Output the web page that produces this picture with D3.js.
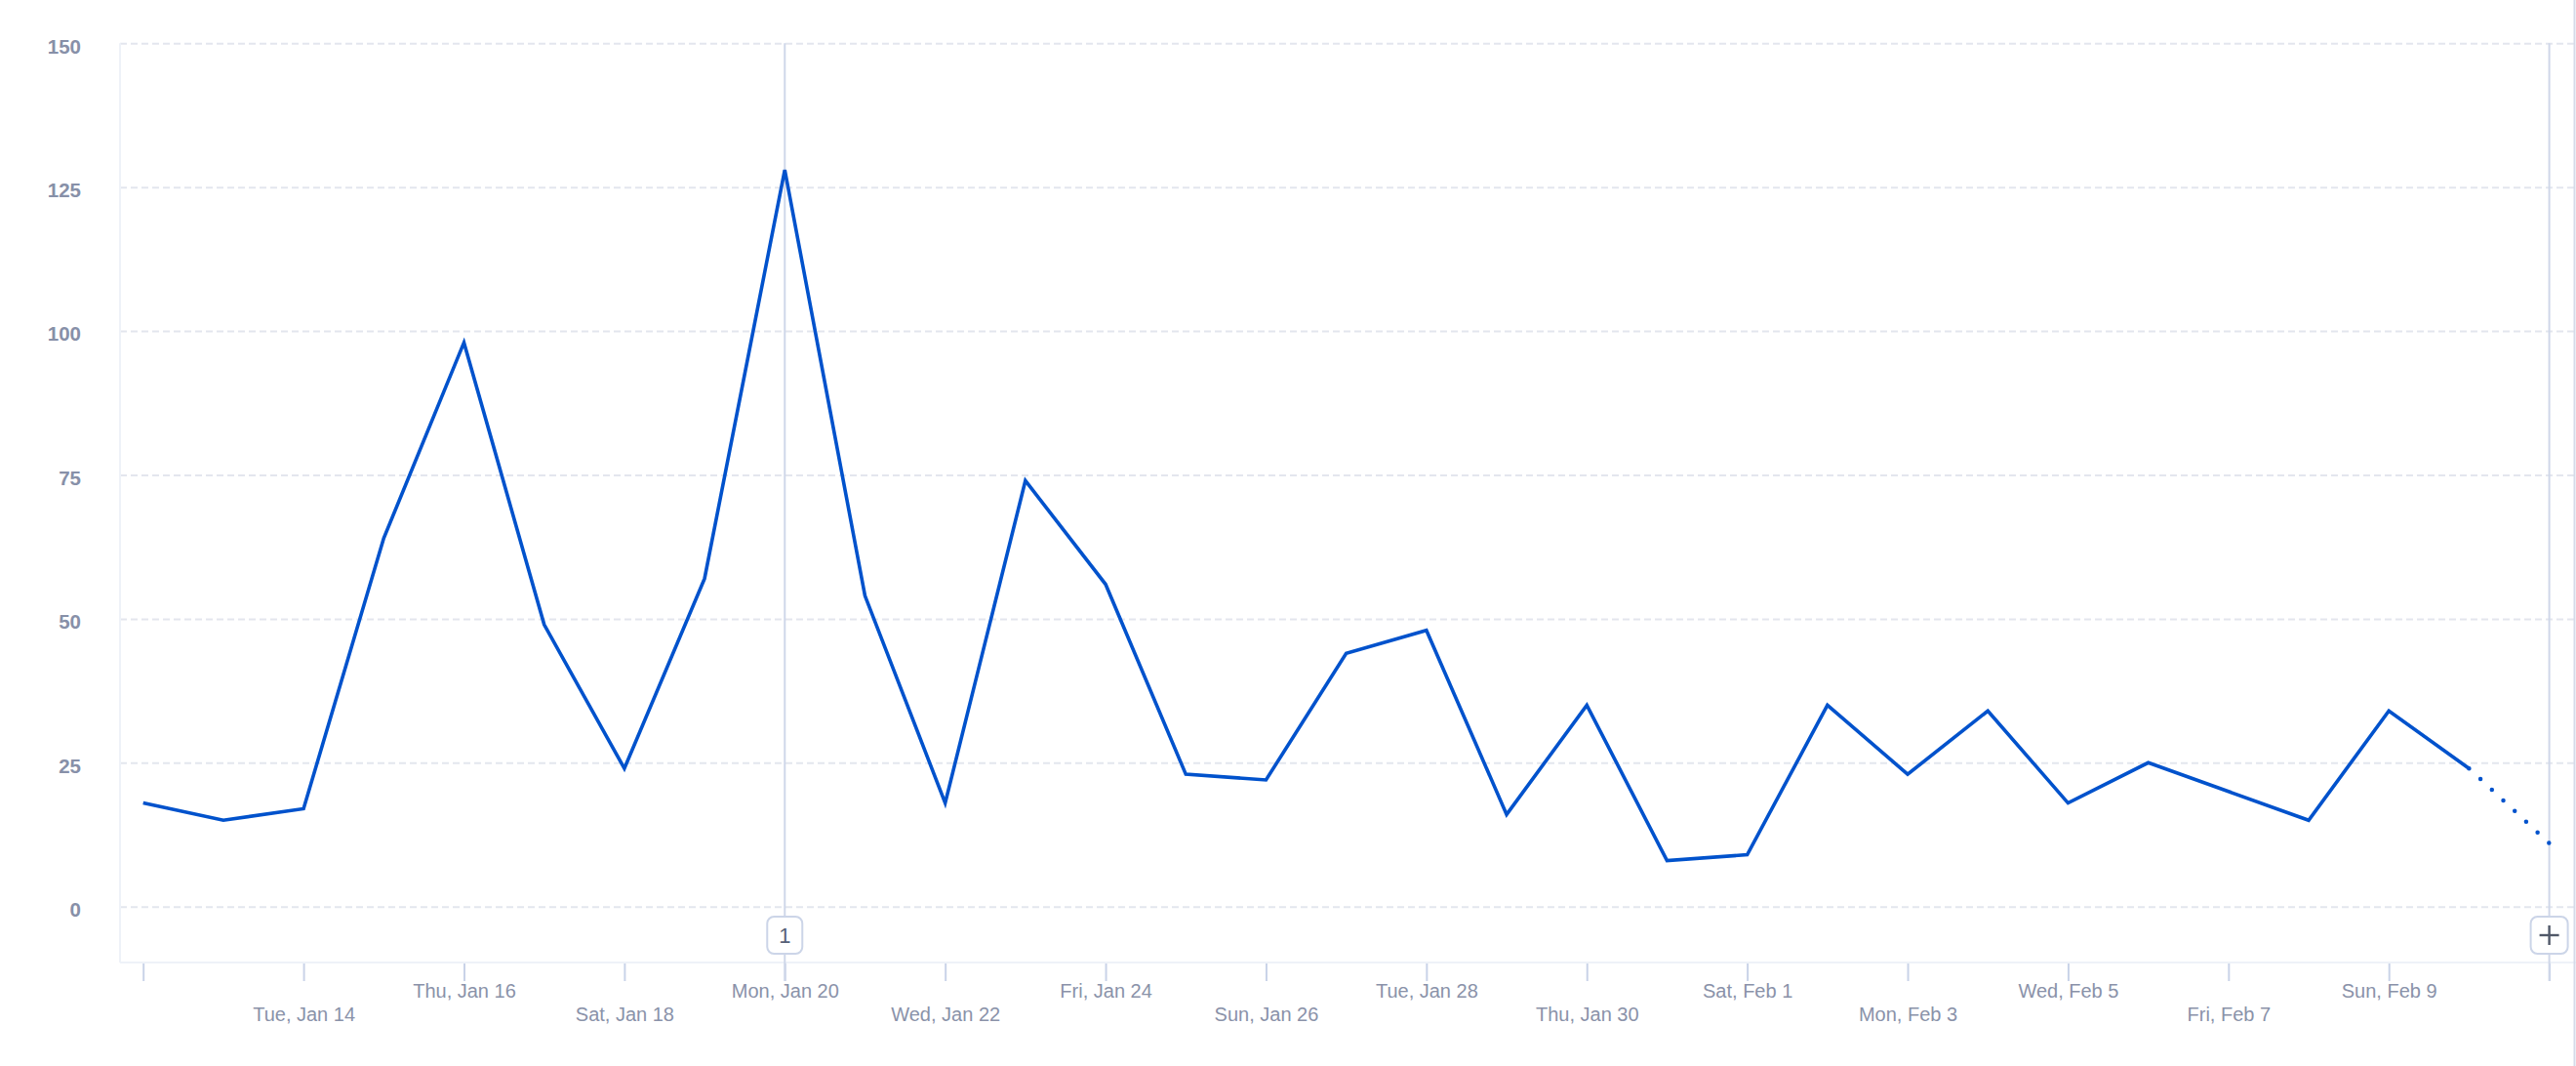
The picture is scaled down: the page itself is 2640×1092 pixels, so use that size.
<!DOCTYPE html>
<html>
<head>
<meta charset="utf-8">
<script src="https://cdn.jsdelivr.net/npm/d3@7"></script>
<style>
  html, body { margin: 0; padding: 0; background: #ffffff; }
  svg { display: block; }
  text { font-family: "Liberation Sans", Arial, sans-serif; }
</style>
</head>
<body>
<svg id="chart" width="2640" height="1092"></svg>
<script>
// ---- data ----
const dates = [
  "2020-01-12","2020-01-13","2020-01-14","2020-01-15","2020-01-16","2020-01-17",
  "2020-01-18","2020-01-19","2020-01-20","2020-01-21","2020-01-22","2020-01-23",
  "2020-01-24","2020-01-25","2020-01-26","2020-01-27","2020-01-28","2020-01-29",
  "2020-01-30","2020-01-31","2020-02-01","2020-02-02","2020-02-03","2020-02-04",
  "2020-02-05","2020-02-06","2020-02-07","2020-02-08","2020-02-09","2020-02-10"
];
const values = [
  18, 15, 17, 64, 98, 49,
  24, 57, 128, 54, 18, 74,
  56, 23, 22, 44, 48, 16,
  35, 8, 9, 35, 23, 34,
  18, 25, 20, 15, 34, 24
];
const partialDates = ["2020-02-10", "2020-02-11"];
const partialValues = [24, 11];

const tickDates = [
  "2020-01-12","2020-01-14","2020-01-16","2020-01-18","2020-01-20","2020-01-22",
  "2020-01-24","2020-01-26","2020-01-28","2020-01-30","2020-02-01","2020-02-03",
  "2020-02-05","2020-02-07","2020-02-09","2020-02-11"
];
const tickLabels = [
  "", "Tue, Jan 14", "Thu, Jan 16", "Sat, Jan 18", "Mon, Jan 20", "Wed, Jan 22",
  "Fri, Jan 24", "Sun, Jan 26", "Tue, Jan 28", "Thu, Jan 30", "Sat, Feb 1", "Mon, Feb 3",
  "Wed, Feb 5", "Fri, Feb 7", "Sun, Feb 9", ""
];
const yTicks = [0, 25, 50, 75, 100, 125, 150];
const markerDate = "2020-01-20";
const markerLabel = "1";
const nowDate = "2020-02-11";

// ---- layout ----
const plotLeft = 123, plotRight = 2640, plotTop = 44.3, plotBottom = 986;
const parse = d3.utcParse("%Y-%m-%d");

const x = d3.scaleUtc()
  .domain([parse("2020-01-12"), parse("2020-02-11")])
  .range([146.7, 2612.6]);
const y = d3.scaleLinear().domain([0, 150]).range([928.7, 44.3]);

const svg = d3.select("#chart");

// gridlines
const grid = svg.append("g").attr("transform", `translate(${plotLeft},0)`)
  .call(d3.axisLeft(y).tickValues(yTicks).tickSize(-(plotRight - plotLeft)).tickFormat(""));
grid.select(".domain").remove();
grid.selectAll(".tick line")
  .attr("stroke", "#e3e6ee").attr("stroke-width", 2).attr("stroke-dasharray", "7,4");

// plot borders
svg.append("line").attr("x1", plotLeft).attr("x2", plotLeft).attr("y1", plotTop).attr("y2", plotBottom)
  .attr("stroke", "#eef2f8").attr("stroke-width", 2);
svg.append("line").attr("x1", plotLeft).attr("x2", plotRight).attr("y1", plotBottom).attr("y2", plotBottom)
  .attr("stroke", "#eef2f8").attr("stroke-width", 2);

// y labels
const yAxis = svg.append("g").attr("transform", `translate(83,0)`)
  .call(d3.axisLeft(y).tickValues(yTicks).tickSize(0).tickPadding(0));
yAxis.select(".domain").remove();
yAxis.selectAll("text")
  .attr("fill", "#8790a8").attr("font-size", 20.5).attr("font-weight", 600)
  .attr("dy", "0.62em").attr("y", -3)
  .style("font-family", "'Liberation Sans', Arial, sans-serif");

// x axis ticks + labels
const xAxis = svg.append("g").attr("transform", `translate(0,${plotBottom + 1})`)
  .call(d3.axisBottom(x).tickValues(tickDates.map(parse)).tickSize(18).tickFormat((d, i) => tickLabels[i]));
xAxis.select(".domain").remove();
xAxis.selectAll(".tick line").attr("stroke", "#c9d3e8").attr("stroke-width", 2);
xAxis.selectAll(".tick text")
  .attr("fill", "#8a92a9").attr("font-size", 20)
  .attr("dy", null)
  .attr("y", (d, i) => (i % 2 === 0 ? 35 : 59))
  .style("font-family", "'Liberation Sans', Arial, sans-serif");

// marker vertical lines
[markerDate, nowDate].forEach(d => {
  svg.append("line")
    .attr("x1", x(parse(d))).attr("x2", x(parse(d)))
    .attr("y1", plotTop).attr("y2", 1005)
    .attr("stroke", "#cfd7e9").attr("stroke-width", 2);
});

// page right edge line
svg.append("line").attr("x1", 2638.5).attr("x2", 2638.5).attr("y1", 0).attr("y2", 1092)
  .attr("stroke", "#d5dbe9").attr("stroke-width", 2);

// series line (solid)
const line = d3.line().x(d => x(d[0])).y(d => y(d[1]));
const solid = dates.map((d, i) => [parse(d), values[i]]);
svg.append("path").datum(solid)
  .attr("fill", "none").attr("stroke", "#0052cc").attr("stroke-width", 3.6)
  .attr("stroke-linejoin", "miter").attr("d", line);

// partial (dotted) segment
const partial = partialDates.map((d, i) => [parse(d), partialValues[i]]);
svg.append("path").datum(partial)
  .attr("fill", "none").attr("stroke", "#0052cc").attr("stroke-width", 4.5)
  .attr("stroke-linecap", "round").attr("stroke-dasharray", "0,16").attr("d", line);

// badges
function badge(cx, w, label, isPlus) {
  const g = svg.append("g").attr("transform", `translate(${cx},958)`);
  g.append("rect").attr("x", -w / 2).attr("y", -19).attr("width", w).attr("height", 38)
    .attr("rx", 7).attr("fill", "#ffffff").attr("stroke", "#ccd5e8").attr("stroke-width", 2);
  if (isPlus) {
    g.append("line").attr("x1", -10).attr("x2", 10).attr("y1", 0).attr("y2", 0)
      .attr("stroke", "#505868").attr("stroke-width", 2.4);
    g.append("line").attr("x1", 0).attr("x2", 0).attr("y1", -10).attr("y2", 10)
      .attr("stroke", "#505868").attr("stroke-width", 2.4);
  } else {
    g.append("text").attr("text-anchor", "middle").attr("y", 8)
      .attr("font-size", 22).attr("fill", "#566077").text(label);
  }
}
badge(x(parse(markerDate)), 36, markerLabel, false);
badge(x(parse(nowDate)), 38, "+", true);
</script>
</body>
</html>
